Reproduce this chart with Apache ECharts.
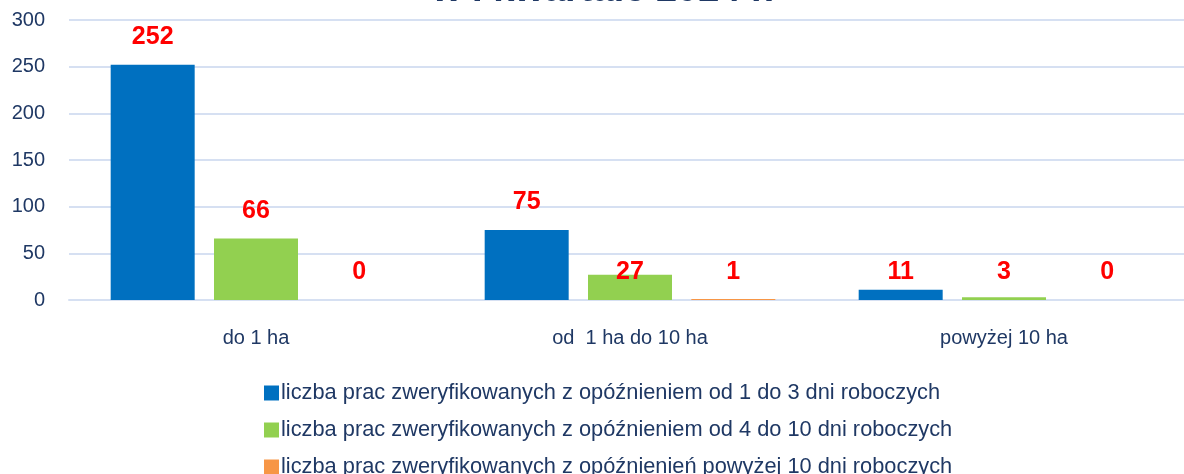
<!DOCTYPE html>
<html lang="pl">
<head>
  <meta charset="utf-8" />
  <title>ECharts</title>
  <script src="https://cdn.jsdelivr.net/npm/echarts@6/dist/echarts.min.js"></script>
</head>
<body style="margin:0">
  <div id="main" style="width: 1184px;height:474px;"></div>
  <script type="text/javascript">
    // dane z wykresu
    var categories = ['do 1 ha', 'od  1 ha do 10 ha', 'powyżej 10 ha'];
    var seriesNames = [
      'liczba prac zweryfikowanych z opóźnieniem od 1 do 3 dni roboczych',
      'liczba prac zweryfikowanych z opóźnieniem od 4 do 10 dni roboczych',
      'liczba prac zweryfikowanych z opóźnienień powyżej 10 dni roboczych'
    ];
    var values1to3 = [252, 75, 11];
    var values4to10 = [66, 27, 3];
    var valuesOver10 = [0, 1, 0];
    var yTicks = [0, 50, 100, 150, 200, 250, 300];

    var myChart = echarts.init(document.getElementById('main'));
    var navy = '#1F3864';
    var font = 'Liberation Sans';
    var colors = ['#0070C0', '#92D050', '#F79646'];
    var allValues = [values1to3, values4to10, valuesOver10];

    var seriesList = allValues.map(function (vals, i) {
      return {
        type: 'bar',
        name: seriesNames[i],
        barWidth: 84,
        barGap: '23%',
        itemStyle: { color: colors[i] },
        label: {
          show: true,
          position: 'top',
          distance: 15,
          color: '#FF0000',
          fontWeight: 'bold',
          fontSize: 25,
          fontFamily: font
        },
        data: vals.map(function (v) {
          // małe etykiety leżą na jednej linii nad osią
          if (v > 0 && v < 30) {
            return { value: v, label: { position: 'insideBottom', distance: 15 } };
          }
          return v;
        })
      };
    });

    // osobna legenda dla każdej serii, żeby trzecia pozycja mogła wyjść poza dół
    var legends = seriesNames.map(function (name, i) {
      return {
        orient: 'vertical',
        left: 259,
        top: 377 + i * 37,
        itemWidth: 15,
        itemHeight: 15,
        icon: 'rect',
        textStyle: { color: navy, fontSize: 21.8, fontFamily: font, padding: [0, 0, 0, -3] },
        data: [name]
      };
    });

    var option = {
      animation: false,
      title: {
        text: 'w I kwartale 2024 r.',
        left: 427,
        top: -33,
        textStyle: { color: navy, fontSize: 38, fontWeight: 'bold', fontFamily: font }
      },
      legend: legends,
      // obszar wykresu wychodzi nieco poza prawą krawędź
      grid: { left: 69, width: 1122, top: 20, bottom: 174, outerBoundsMode: 'none' },
      xAxis: {
        type: 'category',
        data: categories,
        axisLine: { lineStyle: { color: '#D6E0F2', width: 2 } },
        axisTick: { show: false },
        axisLabel: { color: navy, fontSize: 20, fontFamily: font, margin: 28 }
      },
      yAxis: {
        type: 'value',
        min: yTicks[0],
        max: yTicks[yTicks.length - 1],
        interval: 50,
        axisLine: { show: false },
        axisTick: { show: false },
        splitLine: { lineStyle: { color: '#D6E0F2', width: 2 } },
        axisLabel: { color: navy, fontSize: 20, fontFamily: font, margin: 24 }
      },
      series: seriesList
    };
    myChart.setOption(option);
  </script>
</body>
</html>
